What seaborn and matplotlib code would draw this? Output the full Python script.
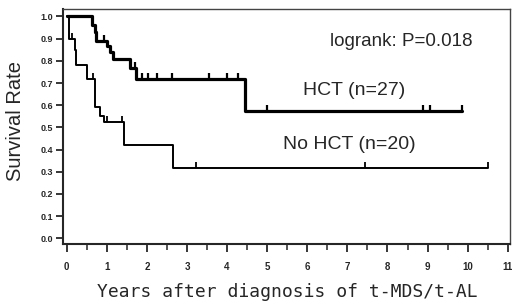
import numpy as np
import pandas as pd
import matplotlib
matplotlib.use("Agg")
import matplotlib.pyplot as plt
import seaborn as sns
from matplotlib.ticker import MultipleLocator

# ---- data ----
hct_time = [0, 0.62, 0.70, 0.74, 1.0, 1.08, 1.16, 1.58, 1.72, 4.45, 9.85]
hct_surv = [1.0, 0.963, 0.930, 0.889, 0.865, 0.840, 0.809, 0.770, 0.719, 0.573, 0.573]
hct_censor = [0.92, 1.70, 1.87, 2.03, 2.25, 2.63, 3.56, 3.99, 4.28, 4.99, 8.89, 9.06, 9.85]

no_time = [0, 0.05, 0.07, 0.20, 0.24, 0.51, 0.71, 0.84, 0.92, 1.44, 2.64, 10.51]
no_surv = [1.0, 0.95, 0.90, 0.85, 0.78, 0.72, 0.59, 0.55, 0.525, 0.42, 0.315, 0.315]
no_censor = [0.13, 0.66, 1.0, 1.37, 3.22, 7.44, 10.51]

x_ticks = list(range(0, 12))
y_ticks = [0.0, 0.1, 0.2, 0.3, 0.4, 0.5, 0.6, 0.7, 0.8, 0.9, 1.0]

sns.set_style("ticks")
plt.rcParams["font.family"] = ["Liberation Sans", "DejaVu Sans"]

fig = plt.figure(figsize=(5.2, 3.08), dpi=100)
ax = fig.add_axes([63/520, 1-244/308, 447/520, 235/308])

df_h = pd.DataFrame({"t": hct_time, "s": hct_surv})
df_n = pd.DataFrame({"t": no_time, "s": no_surv})

sns.lineplot(data=df_h, x="t", y="s", ax=ax, color="black", lw=2.3,
             drawstyle="steps-post", estimator=None, sort=False)
sns.lineplot(data=df_n, x="t", y="s", ax=ax, color="black", lw=1.4,
             drawstyle="steps-post", estimator=None, sort=False)

def surv_at(times, surv, c):
    idx = np.searchsorted(times, c, side="right") - 1
    return np.array(surv)[idx]

ax.plot(hct_censor, surv_at(hct_time, hct_surv, hct_censor), linestyle="none",
        marker=2, markersize=4, mew=1.6, color="black")
ax.plot(no_censor, surv_at(no_time, no_surv, no_censor), linestyle="none",
        marker=2, markersize=4, mew=1.3, color="black")

ax.set_xlim(-0.092, 11.055)
ax.set_ylim(-0.0256, 1.0337)
ax.set_xticks(x_ticks)
ax.set_xticklabels([str(v) for v in x_ticks])
ax.xaxis.set_minor_locator(MultipleLocator(0.5))
ax.set_yticks(y_ticks)
ax.set_yticklabels([f"{v:.1f}" for v in y_ticks])

ax.tick_params(axis="x", which="major", length=6, width=1.3, pad=7,
               labelsize=7, direction="out")
ax.tick_params(axis="x", which="minor", length=4, width=1.1, direction="out")
ax.tick_params(axis="y", which="major", length=5, width=1.3, pad=2,
               labelsize=6.5, direction="out")
for lab in ax.get_xticklabels() + ax.get_yticklabels():
    lab.set_fontweight("bold")

for side in ["left", "bottom"]:
    ax.spines[side].set_linewidth(1.5)
for side in ["top", "right"]:
    ax.spines[side].set_visible(True)
    ax.spines[side].set_linewidth(1.0)
    ax.spines[side].set_color("#444444")

ax.set_xlabel("")
ax.set_ylabel("")

fig.text(287.5/520, 1-297/308, "Years after diagnosis of t-MDS/t-AL",
         family="DejaVu Sans Mono", fontsize=13, ha="center", va="baseline")
fig.text(15.5/520, 1-121/308, "Survival Rate", fontsize=14.5,
         rotation=90, ha="center", va="center")

ax.text(6.56, 0.868, "logrank: P=0.018", fontsize=13.5, ha="left", va="baseline")
ax.text(5.89, 0.644, "HCT (n=27)", fontsize=14, ha="left", va="baseline")
ax.text(5.40, 0.404, "No HCT (n=20)", fontsize=14, ha="left", va="baseline")

fig.savefig("out.png", dpi=100)
